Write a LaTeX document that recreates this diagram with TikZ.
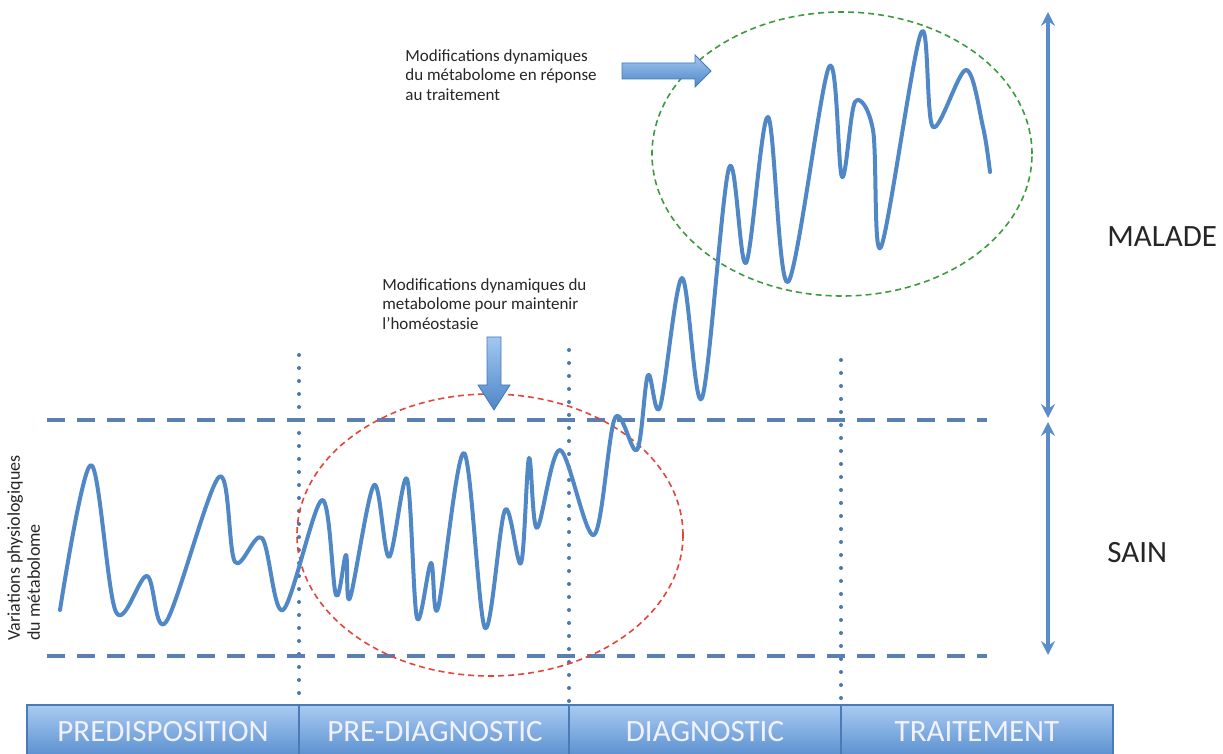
\documentclass[tikz,border=0pt]{standalone}
\usepackage{fontspec}
\setmainfont{Carlito}
\usetikzlibrary{arrows.meta}
\definecolor{curvecol}{HTML}{5087C6}
\definecolor{dashcol}{HTML}{5A80B2}
\definecolor{dotcol}{HTML}{4A78B0}
\definecolor{arrowcol}{HTML}{5A8CC8}
\definecolor{barlight}{HTML}{A9CBF2}
\definecolor{bardark}{HTML}{5B90D0}
\definecolor{barline}{HTML}{4A7BB5}
\definecolor{ellred}{HTML}{E0463E}
\definecolor{ellgreen}{HTML}{3E9A3E}
\definecolor{blocklight}{HTML}{A3C7F1}
\definecolor{blockdark}{HTML}{4E86C8}
\definecolor{textcol}{HTML}{262626}
\tikzset{
  hdash/.style={draw=dashcol, line width=2pt, dash pattern=on 9pt off 6pt},
  vdot/.style={draw=dotcol, line width=2pt, line cap=round, dash pattern=on 0pt off 6.5pt},
  ellstyle/.style={line width=0.8pt, dash pattern=on 3pt off 2pt},
  dblarrow/.style={draw=arrowcol, line width=1.6pt, {Stealth[length=7pt,width=7pt,inset=2.5pt]}-{Stealth[length=7pt,width=7pt,inset=2.5pt]}},
  phase/.style={font=\fontsize{15.5}{16}\selectfont, text=white!95!blue, inner sep=0, anchor=base},
  note/.style={font=\fontsize{8.5}{9.75}\selectfont, align=left, inner sep=0, anchor=north west, text=textcol},
  statelbl/.style={font=\fontsize{15.5}{16}\selectfont, inner sep=0, anchor=base west, text=textcol},
  bardiv/.style={draw=barline, line width=0.8pt},
  blockarrow/.style={top color=blocklight, bottom color=blockdark, draw=blockdark!90!black, line width=0.4pt}
}
\begin{document}
\begin{tikzpicture}[x=0.5pt,y=-0.5pt]
\useasboundingbox (0,0) rectangle (1223,754);

% phase bar
\coordinate (barTL) at (27,705);
\coordinate (barBR) at (1113,756);
\shade[top color=barlight, bottom color=bardark] (barTL) rectangle (barBR);
\draw[barline, line width=0.8pt] (27,756) -- (barTL) -- (1113,705) -- (1113,756);
\coordinate (d1t) at (299,705); \coordinate (d1b) at (299,756);
\coordinate (d2t) at (569,705); \coordinate (d2b) at (569,756);
\coordinate (d3t) at (841,705); \coordinate (d3b) at (841,756);
\draw[bardiv] (d1t) -- (d1b);
\draw[bardiv] (d2t) -- (d2b);
\draw[bardiv] (d3t) -- (d3b);
\node[phase] (p1) at (163,741) {PREDISPOSITION};
\node[phase] (p2) at (435,741) {PRE-DIAGNOSTIC};
\node[phase] (p3) at (705,741) {DIAGNOSTIC};
\node[phase] (p4) at (977,741) {TRAITEMENT};

% vertical dotted separators
\coordinate (v1) at (299,355);
\coordinate (v2) at (569,350);
\coordinate (v3) at (841,360);
\draw[vdot] (v1) -- (d1t);
\draw[vdot] (v2) -- (d2t);
\draw[vdot] (v3) -- (d3t);

% horizontal dashed limits
\coordinate (hl1) at (47,420); \coordinate (hr1) at (987,420);
\coordinate (hl2) at (47,656); \coordinate (hr2) at (987,656);
\draw[hdash] (hl1) -- (hr1);
\draw[hdash] (hl2) -- (hr2);

% ellipses
\coordinate (redc) at (490,535);
\coordinate (greenc) at (842,154);
\draw[ellstyle, draw=ellred] (redc) ellipse [x radius=96.5pt, y radius=70.5pt];
\draw[ellstyle, draw=ellgreen] (greenc) ellipse [x radius=95pt, y radius=71pt];

% metabolome curve
\draw[curvecol, line width=2pt, line join=round, line cap=round] plot[smooth, tension=0.55] coordinates {
 (60,610) (91,465) (116,612) (147,576) (166,622) (219,477) (235,562) (262,538) (283,610)
 (322,500) (336,595) (346,555) (350,598) (374,485) (389,557) (407,479) (417,618) (431,563)
 (438,608) (464,453) (485,628) (505,510) (521,563) (529,458) (537,528) (560,450) (594,535)
 (615,418) (637,450) (648,375) (660,407) (682,278) (702,398) (729,168) (746,263) (768,117)
 (788,282) (829,67) (842,177) (855,102) (873,130) (881,247) (921,33) (933,127) (966,70)
 (983,127) (990,172)};

% block arrows
\shade[blockarrow] (622,63) -- (695,63) -- (695,55) -- (711,71) -- (695,87) -- (695,79) -- (622,79) -- cycle;
\shade[blockarrow] (487,337) -- (501,337) -- (501,385) -- (510,385) -- (494,410) -- (478,385) -- (487,385) -- cycle;

% double arrows
\coordinate (a1t) at (1048,12); \coordinate (a1b) at (1048,418);
\coordinate (a2t) at (1048,422); \coordinate (a2b) at (1048,655);
\draw[dblarrow] (a1t) -- (a1b);
\draw[dblarrow] (a2t) -- (a2b);

% texts
\node[note] (topnote) at (405,49) {Modifications dynamiques\\du métabolome en réponse\\au traitement};
\node[note] (midnote) at (382,278) {Modifications dynamiques du\\metabolome pour maintenir\\l’homéostasie};
\node[note, rotate=90, font=\fontsize{9}{10}\selectfont] (ylabel) at (7,641) {Variations physiologiques\\du métabolome};
\node[statelbl] (malade) at (1107,247) {MALADE};
\node[statelbl] (sain) at (1107,563) {SAIN};
\end{tikzpicture}
\end{document}
